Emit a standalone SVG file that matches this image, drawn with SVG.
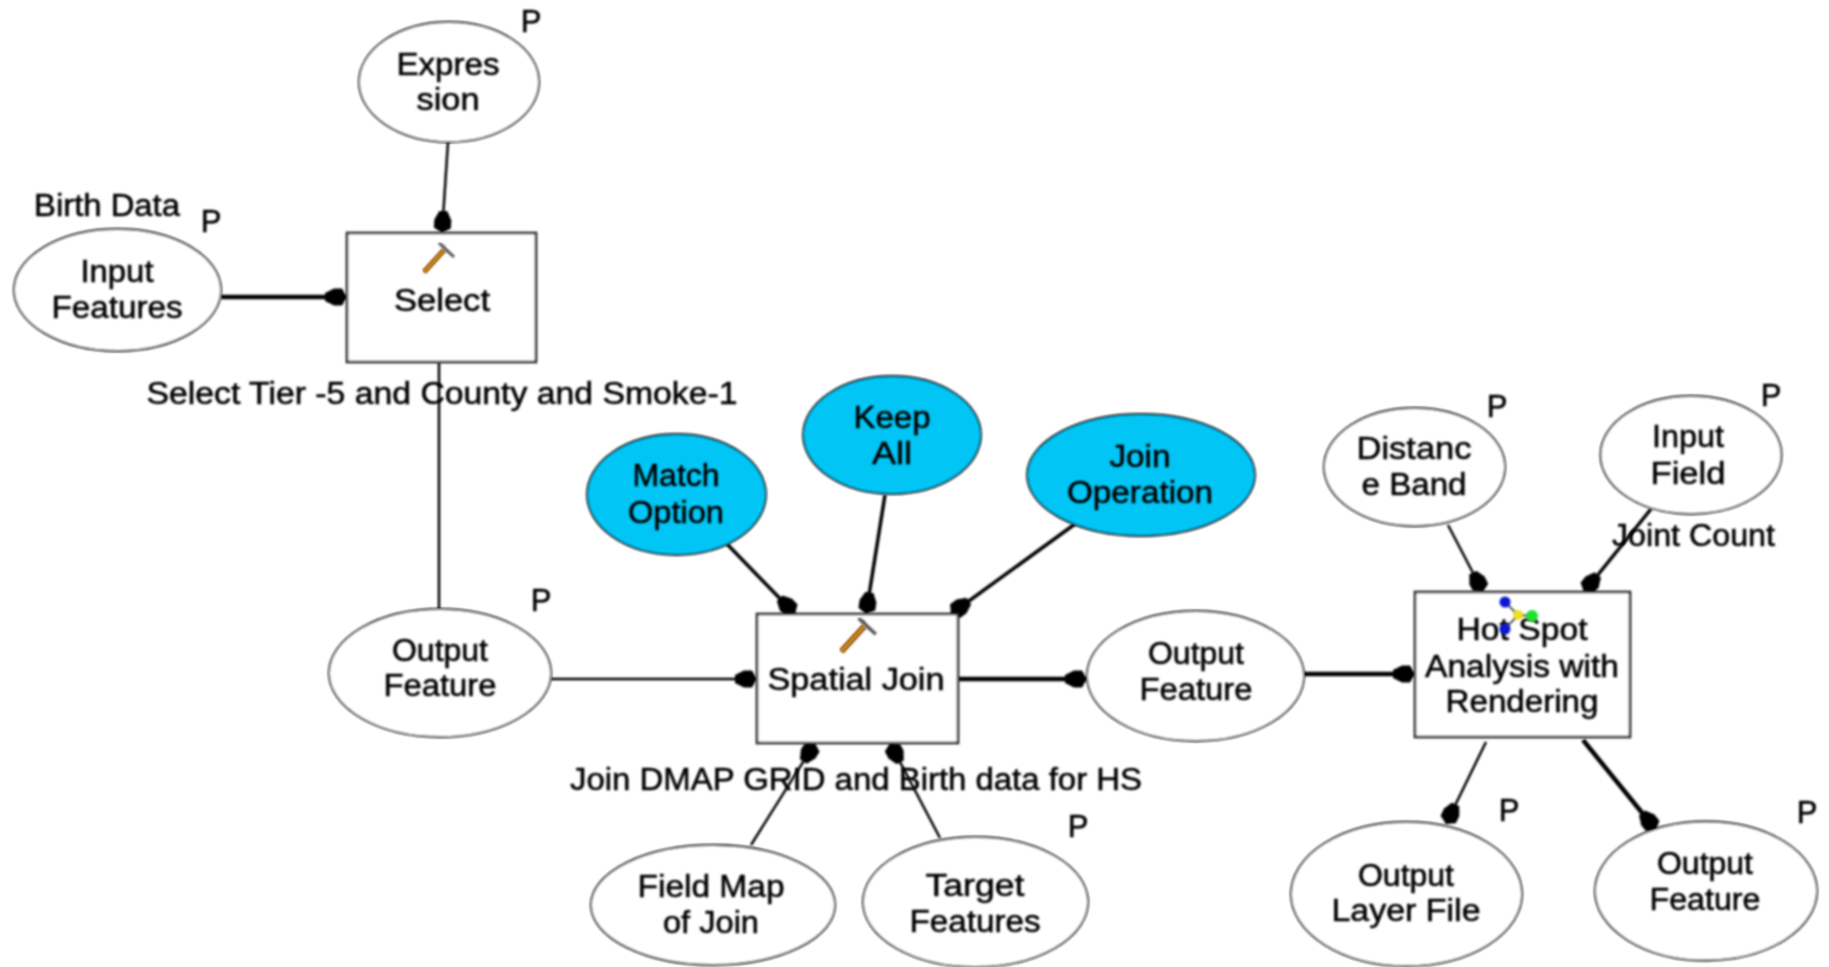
<svg xmlns="http://www.w3.org/2000/svg" width="1829" height="967" viewBox="0 0 1829 967">
<style>
text{font-family:"Liberation Sans",Arial,sans-serif;font-size:31px;fill:#000;stroke:#000;stroke-width:.55;text-anchor:middle}
ellipse{fill:#fff;stroke:#111;stroke-width:1.8}
ellipse.p{fill:#00c5f5}
rect{fill:#fff;stroke:#222;stroke-width:2.6}
.c{fill:none;stroke:#000;marker-end:url(#h)}
.n{fill:none;stroke:#000}
.t1{stroke-width:2.5}.t2{stroke-width:3.5}.t3{stroke-width:4.5}
text,ellipse,rect,path,circle{filter:url(#b)}
</style>
<defs>
<filter id="b" filterUnits="userSpaceOnUse" x="0" y="0" width="1829" height="967"><feGaussianBlur stdDeviation="0.8"/></filter>
<marker id="h" markerUnits="userSpaceOnUse" markerWidth="24" markerHeight="20" refX="22" refY="10" orient="auto"><path d="M0,6 9,1.500 17,1.500 22,10 17,18.500 9,18.500 0,14Z" style="fill:#000;filter:none"/></marker>
<g id="hammer">
<path d="M2,30 L22,8" stroke="#8a4a10" stroke-width="5" fill="none"/>
<path d="M2,30 L22,8" stroke="#e0a020" stroke-width="2" fill="none"/>
<path d="M17,1 L32,15 M20,3 L26,10" stroke="#555" stroke-width="3" fill="none"/>
</g>
</defs>
<rect width="1829" height="967" style="fill:#fff;stroke:none;filter:none"/>
<g id="connectors">
<path class="c t1" d="M448,142 L442,233"/>
<path class="c t3" d="M221,297 L347,297"/>
<path class="n t1" d="M439,362 L439,609"/>
<path class="c t1" d="M551,679 L757,679"/>
<path class="c t3" d="M958,679 L1087,679"/>
<path class="c t3" d="M1304,674 L1415,674"/>
<path class="c t2" d="M727,544 L795,614"/>
<path class="c t2" d="M885,495 L866,614"/>
<path class="c t2" d="M1075,524 L951,614"/>
<path class="c t1" d="M751,845 L815,743"/>
<path class="c t1" d="M940,838 L890,743"/>
<path class="c t1" d="M1448,525 L1483,592"/>
<path class="c t2" d="M1651,509 L1584,592"/>
<path class="c t1" d="M1486,742 L1446,824"/>
<path class="c t3" d="M1583,740 L1656,830"/>
</g>
<g id="expression"><ellipse cx="449" cy="82" rx="90" ry="60"/><text x="448" y="75" textLength="103" lengthAdjust="spacingAndGlyphs">Expres</text><text x="448" y="110" textLength="63" lengthAdjust="spacingAndGlyphs">sion</text><text x="531" y="32">P</text></g>
<g id="input-features"><ellipse cx="117.500" cy="290" rx="103.500" ry="61"/><text x="117" y="282" textLength="73" lengthAdjust="spacingAndGlyphs">Input</text><text x="117" y="318" textLength="131" lengthAdjust="spacingAndGlyphs">Features</text><text x="107" y="216" textLength="146" lengthAdjust="spacingAndGlyphs">Birth Data</text><text x="211" y="232">P</text></g>
<g id="select"><rect x="347" y="233" width="189" height="129"/><use href="#hammer" x="422" y="242"/><text x="442" y="311" textLength="96" lengthAdjust="spacingAndGlyphs">Select</text><text x="442" y="404" textLength="591" lengthAdjust="spacingAndGlyphs">Select Tier -5 and County and Smoke-1</text></g>
<g id="output-feature-1"><ellipse cx="440" cy="673" rx="111" ry="64"/><text x="440" y="661" textLength="96" lengthAdjust="spacingAndGlyphs">Output</text><text x="440" y="696" textLength="113" lengthAdjust="spacingAndGlyphs">Feature</text><text x="541" y="611">P</text></g>
<g id="match-option"><ellipse class="p" cx="676.500" cy="494.500" rx="89.500" ry="60.500"/><text x="676" y="486" textLength="87" lengthAdjust="spacingAndGlyphs">Match</text><text x="676" y="523" textLength="96" lengthAdjust="spacingAndGlyphs">Option</text></g>
<g id="keep-all"><ellipse class="p" cx="892" cy="435" rx="89" ry="59"/><text x="892" y="428" textLength="77" lengthAdjust="spacingAndGlyphs">Keep</text><text x="892" y="464" textLength="40" lengthAdjust="spacingAndGlyphs">All</text></g>
<g id="join-operation"><ellipse class="p" cx="1141" cy="475" rx="114" ry="61"/><text x="1140" y="467" textLength="61" lengthAdjust="spacingAndGlyphs">Join</text><text x="1140" y="503" textLength="146" lengthAdjust="spacingAndGlyphs">Operation</text></g>
<g id="spatial-join"><rect x="757" y="614" width="201" height="129"/><use href="#hammer" transform="translate(839,617) scale(1.15)"/><text x="856" y="690" textLength="177" lengthAdjust="spacingAndGlyphs">Spatial Join</text><text x="856" y="790" textLength="572" lengthAdjust="spacingAndGlyphs">Join DMAP GRID and Birth data for HS</text></g>
<g id="output-feature-2"><ellipse cx="1195.500" cy="676" rx="108.500" ry="65"/><text x="1196" y="664" textLength="96" lengthAdjust="spacingAndGlyphs">Output</text><text x="1196" y="700" textLength="113" lengthAdjust="spacingAndGlyphs">Feature</text></g>
<g id="field-map"><ellipse cx="713" cy="905" rx="122" ry="60"/><text x="711" y="897" textLength="147" lengthAdjust="spacingAndGlyphs">Field Map</text><text x="711" y="933" textLength="96" lengthAdjust="spacingAndGlyphs">of Join</text></g>
<g id="target-features"><ellipse cx="975.500" cy="902" rx="112.500" ry="65"/><text x="975" y="896" textLength="99" lengthAdjust="spacingAndGlyphs">Target</text><text x="975" y="932" textLength="131" lengthAdjust="spacingAndGlyphs">Features</text><text x="1078" y="837">P</text></g>
<g id="distance-band"><ellipse cx="1414.500" cy="467" rx="90.500" ry="59"/><text x="1414" y="459" textLength="115" lengthAdjust="spacingAndGlyphs">Distanc</text><text x="1414" y="495" textLength="105" lengthAdjust="spacingAndGlyphs">e Band</text><text x="1497" y="417">P</text></g>
<g id="input-field"><ellipse cx="1691" cy="455" rx="90.500" ry="59"/><text x="1688" y="447" textLength="72" lengthAdjust="spacingAndGlyphs">Input</text><text x="1688" y="484" textLength="75" lengthAdjust="spacingAndGlyphs">Field</text><text x="1771" y="406">P</text><text x="1693.500" y="546" textLength="163" lengthAdjust="spacingAndGlyphs">Joint Count</text></g>
<g id="hot-spot"><rect x="1415" y="592" width="215" height="145"/>
<text x="1522" y="640" textLength="131" lengthAdjust="spacingAndGlyphs">Hot Spot</text><text x="1522" y="677" textLength="194" lengthAdjust="spacingAndGlyphs">Analysis with</text><text x="1522" y="712" textLength="153" lengthAdjust="spacingAndGlyphs">Rendering</text>
<path d="M1505,602 L1518,615 L1505,629 M1518,615 L1532,616" stroke="#222" stroke-width="1.500" fill="none"/>
<circle cx="1505" cy="602" r="5.500" fill="#0a14d0"/><circle cx="1505" cy="629" r="5.500" fill="#0a14d0"/><circle cx="1518" cy="615" r="5" fill="#f0e020"/><circle cx="1532" cy="616" r="6" fill="#20e030"/></g>
<g id="output-layer"><ellipse cx="1406.500" cy="894" rx="115.500" ry="72"/><text x="1406" y="886" textLength="96" lengthAdjust="spacingAndGlyphs">Output</text><text x="1406" y="921" textLength="149" lengthAdjust="spacingAndGlyphs">Layer File</text><text x="1509" y="821">P</text></g>
<g id="output-feature-3"><ellipse cx="1706" cy="891" rx="111" ry="69.500"/><text x="1705" y="874" textLength="96" lengthAdjust="spacingAndGlyphs">Output</text><text x="1705" y="910" textLength="111" lengthAdjust="spacingAndGlyphs">Feature</text><text x="1807" y="823">P</text></g>
</svg>
